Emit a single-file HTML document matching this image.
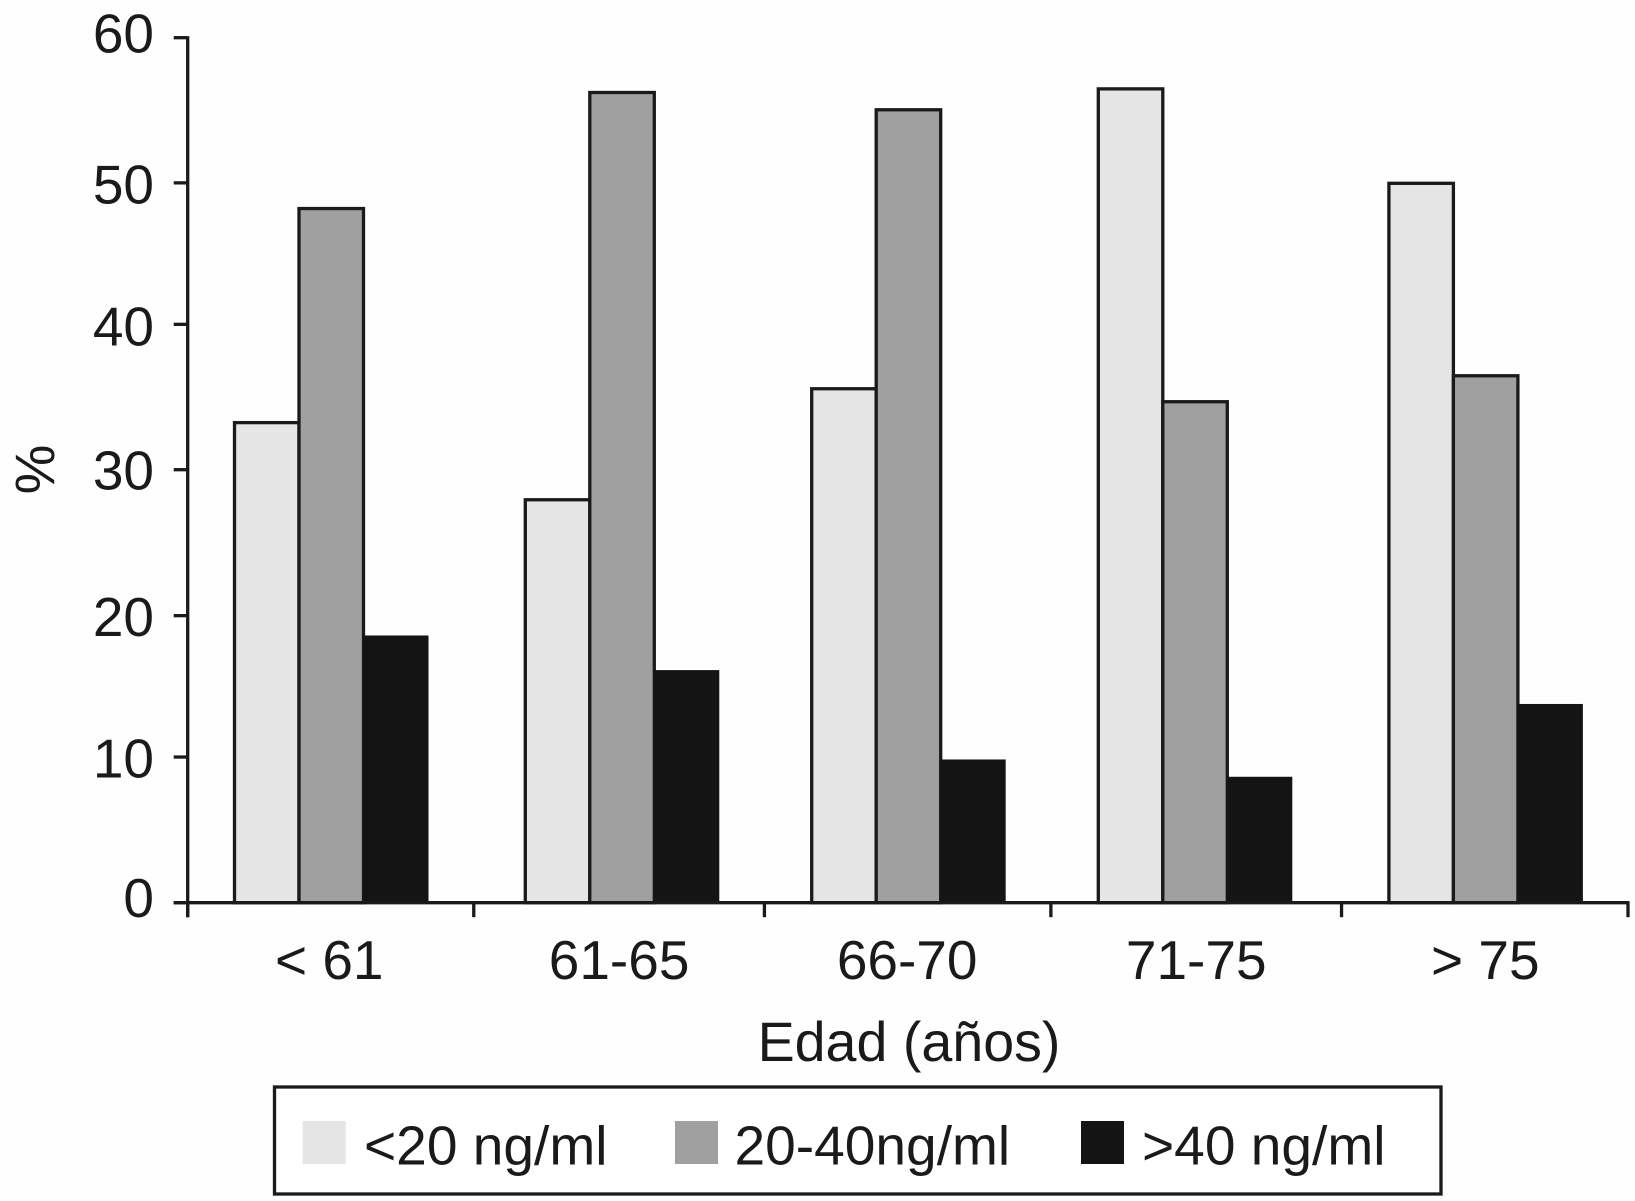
<!DOCTYPE html>
<html lang="es">
<head>
<meta charset="utf-8">
<title>Edad (años) por nivel ng/ml</title>
<style>
  html, body { margin: 0; padding: 0; background: #fefefe; }
  svg { display: block; }
  text { font-family: "Liberation Sans", Arial, sans-serif; fill: #1a1a1a; }
</style>
</head>
<body>
<svg id="chart" xmlns="http://www.w3.org/2000/svg" width="1635" height="1201" viewBox="0 0 1635 1201">
  <g id="bars"></g>
  <g id="axes"></g>
  <text transform="translate(54,469.5) rotate(-90)" text-anchor="middle" font-size="56">%</text>
  <text x="909" y="1061" text-anchor="middle" font-size="55.6">Edad (años)</text>
  <g id="legend">
    <rect x="274.5" y="1087" width="1166.5" height="107" fill="#fff" stroke="#1a1a1a" stroke-width="3.3"></rect>
  </g>
</svg>
<script>
const categories = ["< 61", "61-65", "66-70", "71-75", "> 75"];
const seriesNames = ["<20 ng/ml", "20-40ng/ml", ">40 ng/ml"];
const seriesLow = [33.3, 27.95, 35.65, 56.45, 49.9];
const seriesMid = [48.15, 56.2, 55.0, 34.75, 36.55];
const seriesHigh = [18.5, 16.1, 9.9, 8.7, 13.75];
const yTickLabels = ["0", "10", "20", "30", "40", "50", "60"];

const allSeries = [seriesLow, seriesMid, seriesHigh];
const fills = ["#e5e5e5", "#a0a0a0", "#141414"];
const strokes = ["#1a1a1a", "#1a1a1a", "#141414"];
const strokeWidths = [3.3, 3.3, 1];
const seriesKeys = ["low", "mid", "high"];

const NS = "http://www.w3.org/2000/svg";
const axisColor = "#1a1a1a";
const plotLeft = 187.7, plotRight = 1628, plotTop = 37.7, plotBottom = 902.7, yMax = 60;
const barWidth = 64.5, groupStart = 234.5, groupStep = 288.6;
const groupNudge = [0, 2.2, 0, -2, 0];
const yLabelNudge = [-7, -2.5, 0, -2, -2, 0, -6.5];
const yTickNudge = [0, -1.5, 1.3, -0.5, -1.7, 1, 0];
const xTickNudge = [0, -2, 0.6, -1, 1.6, 0];
const xLabelNudge = [-2.5, -0.7, -0.7, 0.3, 1.3];

function yScale(v) {
  return plotBottom - (v / yMax) * (plotBottom - plotTop);
}
function barX(groupIndex, seriesIndex) {
  return groupStart + groupStep * groupIndex + groupNudge[groupIndex] + barWidth * seriesIndex;
}
function xEdge(i) {
  return plotLeft + (i / categories.length) * (plotRight - plotLeft) + xTickNudge[i];
}
function xCenter(i) {
  return plotLeft + ((i + 0.5) / categories.length) * (plotRight - plotLeft) + xLabelNudge[i];
}
function make(tag, attrs, parent) {
  const el = document.createElementNS(NS, tag);
  for (const k in attrs) el.setAttribute(k, attrs[k]);
  parent.appendChild(el);
  return el;
}

const barsGroup = document.getElementById("bars");
const axesGroup = document.getElementById("axes");
const legendGroup = document.getElementById("legend");

allSeries.forEach(function (values, s) {
  values.forEach(function (v, i) {
    const top = yScale(v);
    const rect = make("rect", {
      x: barX(i, s), y: top, width: barWidth, height: plotBottom - top,
      fill: fills[s], stroke: strokes[s], "stroke-width": strokeWidths[s]
    }, barsGroup);
    
    
  });
});

const yAxisLine = make("line", { x1: plotLeft, x2: plotLeft, y1: plotTop - 1.5, y2: plotBottom + 14.5, stroke: axisColor, "stroke-width": 3.3 }, axesGroup);



const xAxisLine = make("line", { x1: plotLeft - 14, x2: plotRight + 1.5, y1: plotBottom, y2: plotBottom, stroke: axisColor, "stroke-width": 3.3 }, axesGroup);



yTickLabels.forEach(function (label, i) {
  const value = Number(label);
  const tickY = yScale(value) + yTickNudge[i];
  const tick = make("line", { x1: plotLeft - 14, x2: plotLeft, y1: tickY, y2: tickY, stroke: axisColor, "stroke-width": 3.3 }, axesGroup);
  
  
  const text = make("text", { x: 154, y: yScale(value) + 21.5 + yLabelNudge[i], "text-anchor": "end", "font-size": 55 }, axesGroup);
  text.textContent = label;
  
  
});

for (let i = 0; i <= categories.length; i++) {
  const tickX = xEdge(i);
  const tick = make("line", { x1: tickX, x2: tickX, y1: plotBottom, y2: plotBottom + 14.5, stroke: axisColor, "stroke-width": 3.3 }, axesGroup);
  
  
}

categories.forEach(function (label, i) {
  const text = make("text", { x: xCenter(i), y: 979, "text-anchor": "middle", "font-size": 55 }, axesGroup);
  text.textContent = label;
  
  
});

const legendSwatchX = [302.7, 675, 1081];
const legendTextX = [364, 734.5, 1142];
seriesNames.forEach(function (name, s) {
  const swatch = make("rect", { x: legendSwatchX[s], y: 1121, width: 43, height: 43, fill: fills[s] }, legendGroup);
  
  
  const text = make("text", { x: legendTextX[s], y: 1164.5, "font-size": 55.1 }, legendGroup);
  text.textContent = name;
  
  
});
</script>
</body>
</html>
